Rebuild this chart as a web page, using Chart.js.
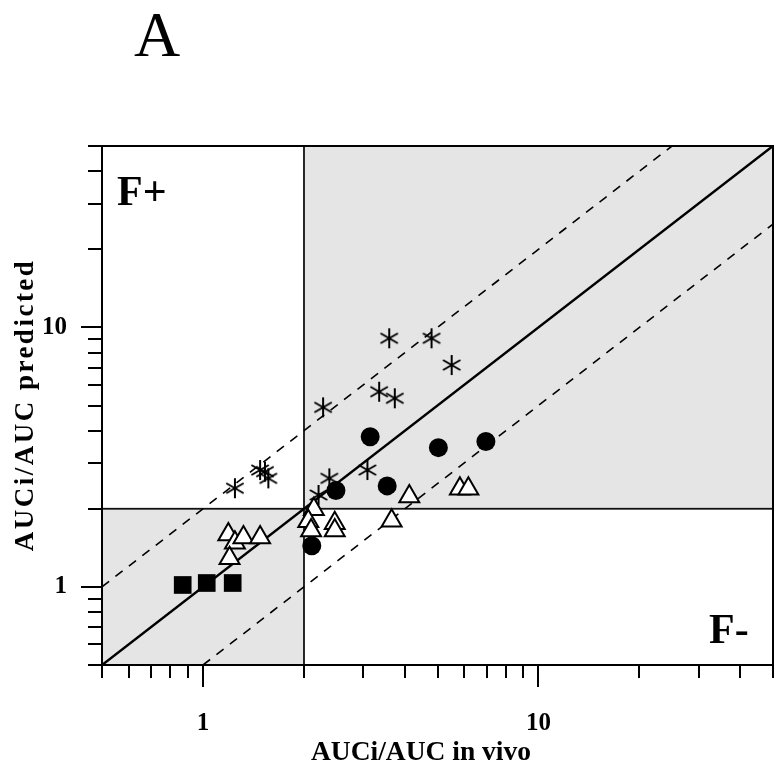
<!DOCTYPE html>
<html>
<head>
<meta charset="utf-8">
<script src="https://cdn.jsdelivr.net/npm/chart.js@4/dist/chart.umd.min.js"></script>
<style>
  html, body { margin: 0; padding: 0; background: #fff; }
</style>
</head>
<body>
<canvas id="chart" width="778" height="767"></canvas>
<script>
const starX = [1.245, 1.48, 1.53, 1.566, 2.21, 2.38, 2.28, 3.09, 3.35, 3.73, 3.59, 4.80, 5.51];
const starY = [2.40, 2.82, 2.78, 2.62, 2.26, 2.62, 4.92, 2.82, 5.65, 5.33, 9.08, 9.08, 7.16];

const circleX = [2.11, 2.49, 3.15, 3.54, 5.03, 6.97];
const circleY = [1.44, 2.35, 3.79, 2.45, 3.44, 3.63];

const triX = [1.19, 1.245, 1.32, 1.48, 1.20, 2.14, 2.06, 2.10, 2.47, 2.47, 4.12, 3.65, 5.83, 6.18];
const triY = [1.59, 1.48, 1.55, 1.55, 1.29, 1.99, 1.79, 1.65, 1.76, 1.65, 2.23, 1.80, 2.39, 2.39];

const squareX = [0.87, 1.026, 1.226];
const squareY = [1.017, 1.035, 1.035];

const axisMin = 0.5;
const axisMax = 50;
const cutoff = 2;
const tickValues = [0.5, 0.6, 0.7, 0.8, 0.9, 1, 2, 3, 4, 5, 6, 7, 8, 9, 10, 20, 30, 40, 50];
const majorTicks = [1, 10];

const serif = '"Liberation Serif", "DejaVu Serif", serif';

function pts(xs, ys) {
  return xs.map((x, i) => ({ x, y: ys[i] }));
}

function makeAsterisk(size, lw) {
  const c = document.createElement("canvas");
  c.width = size;
  c.height = size;
  const g = c.getContext("2d");
  g.strokeStyle = "#000";
  g.lineWidth = lw;
  g.translate(size / 2, size / 2);
  const r = size / 2 - 1;
  for (let k = 0; k < 3; k++) {
    const a = Math.PI / 2 + k * Math.PI / 3;
    g.beginPath();
    g.moveTo(Math.cos(a) * r, Math.sin(a) * r);
    g.lineTo(-Math.cos(a) * r, -Math.sin(a) * r);
    g.stroke();
  }
  return c;
}

const decor = {
  id: "decor",
  beforeDatasetsDraw(chart) {
    const { ctx, scales: { x, y } } = chart;
    ctx.save();
    const boxes = [
      [cutoff, axisMax, cutoff, axisMax],
      [axisMin, cutoff, axisMin, cutoff]
    ];
    boxes.forEach(([x0, x1, y0, y1]) => {
      const l = x.getPixelForValue(x0), r = x.getPixelForValue(x1);
      const t = y.getPixelForValue(y1), b = y.getPixelForValue(y0);
      ctx.fillStyle = "#e5e5e5";
      ctx.fillRect(l, t, r - l, b - t);
      ctx.strokeStyle = "#111";
      ctx.lineWidth = 1.8;
      ctx.strokeRect(l, t, r - l, b - t);
    });
    ctx.restore();
  },
  afterDraw(chart) {
    const { ctx, chartArea: a, scales: { x, y } } = chart;
    ctx.save();
    ctx.strokeStyle = "#000";
    ctx.lineWidth = 2;
    ctx.strokeRect(a.left, a.top, a.right - a.left, a.bottom - a.top);

    // tick marks
    ctx.lineWidth = 2;
    tickValues.forEach(v => {
      const px = Math.round(x.getPixelForValue(v));
      const lx = majorTicks.includes(v) ? 22 : 13;
      ctx.beginPath();
      ctx.moveTo(px, a.bottom);
      ctx.lineTo(px, a.bottom + lx);
      ctx.stroke();
      const py = Math.round(y.getPixelForValue(v));
      const ly = majorTicks.includes(v) ? 21 : 14;
      ctx.beginPath();
      ctx.moveTo(a.left, py);
      ctx.lineTo(a.left - ly, py);
      ctx.stroke();
    });

    ctx.fillStyle = "#000";
    ctx.textBaseline = "alphabetic";
    ctx.textAlign = "left";
    ctx.font = "64px " + serif;
    ctx.fillText("A", 134, 56);
    ctx.font = "bold 42px " + serif;
    ctx.fillText("F+", 117, 205);
    ctx.fillText("F-", 709, 643);

    // axis titles
    ctx.textAlign = "center";
    ctx.font = "bold 27.5px " + serif;
    ctx.fillText("AUCi/AUC in vivo", 421, 760);
    ctx.font = "bold 27px " + serif;
    ctx.letterSpacing = "2.5px";
    ctx.translate(33, 405);
    ctx.rotate(-Math.PI / 2);
    ctx.fillText("AUCi/AUC predicted", 0, 0);
    ctx.restore();
  }
};

const lineDs = (data, dash, width) => ({
  type: "line",
  data,
  borderColor: "#000",
  borderWidth: width,
  borderDash: dash,
  pointRadius: 0,
  fill: false,
  order: 10
});

const logScale = (pos, pad) => ({
  type: "logarithmic",
  position: pos,
  min: axisMin,
  max: axisMax,
  afterBuildTicks: s => { s.ticks = tickValues.map(v => ({ value: v })); },
  afterFit: s => {
    if (pos === "bottom") {
      s.height = 102;
      s.paddingLeft = 0;
      s.paddingRight = 0;
    } else {
      s.width = 102;
      s.paddingTop = 0;
      s.paddingBottom = 0;
    }
  },
  grid: { display: false, drawTicks: false },
  border: { display: false },
  ticks: {
    autoSkip: false,
    maxRotation: 0,
    padding: pad,
    color: "#000",
    font: { family: serif, size: 25, weight: "bold" },
    callback: v => (majorTicks.includes(v) ? String(v) : "")
  }
});

new Chart(document.getElementById("chart"), {
  type: "scatter",
  data: {
    datasets: [
      lineDs([{ x: axisMin, y: axisMin }, { x: axisMax, y: axisMax }], [], 2.5),
      lineDs([{ x: axisMin, y: axisMin * 2 }, { x: axisMax / 2, y: axisMax }], [9, 8], 1.6),
      lineDs([{ x: axisMin * 2, y: axisMin }, { x: axisMax, y: axisMax / 2 }], [9, 8], 1.6),
      {
        data: pts(starX, starY),
        pointStyle: makeAsterisk(22, 2),
        pointRadius: 11,
        order: 1
      },
      {
        data: pts(circleX, circleY),
        pointStyle: "circle",
        pointRadius: 9.5,
        pointBackgroundColor: "#000",
        pointBorderColor: "#000",
        pointBorderWidth: 0,
        order: 2
      },
      {
        data: pts(triX, triY),
        pointStyle: "triangle",
        pointRadius: 11.5,
        pointBackgroundColor: "#fff",
        pointBorderColor: "#000",
        pointBorderWidth: 2,
        order: 0
      },
      {
        data: pts(squareX, squareY),
        pointStyle: "rect",
        pointRadius: 12.5,
        pointBackgroundColor: "#000",
        pointBorderColor: "#000",
        pointBorderWidth: 0,
        order: 3
      }
    ]
  },
  options: {
    responsive: false,
    animation: false,
    layout: { autoPadding: false, padding: { top: 146, right: 5, left: 0, bottom: 0 } },
    plugins: { legend: { display: false }, tooltip: { enabled: false } },
    scales: {
      x: logScale("bottom", 44),
      y: logScale("left", 35)
    }
  },
  plugins: [decor]
});
</script>
</body>
</html>
